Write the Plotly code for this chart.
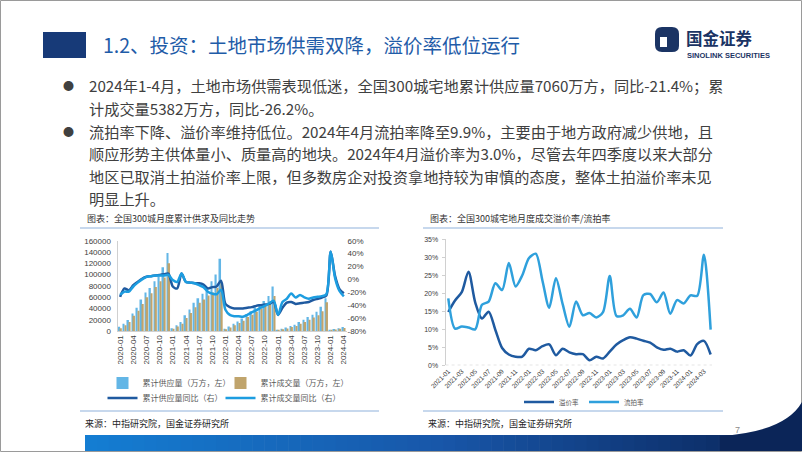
import plotly.graph_objects as go

W, H = 802, 452
def px(x): return x / W
def py(y): return 1 - y / H

CJK = "Noto Sans CJK SC"
ARIAL = "Liberation Sans, Arial, sans-serif"

# ---------------- data: left chart (全国300城月度累计供求及同比走势) ----------------
months_left = [f"{y}-{m:02d}" for y in range(2020, 2025) for m in range(1, 13)][:52]
supply_cum = [
    7700, 13000, 19500, 31000, 41000, 56000, 68000, 76000, 88000, 96000, 113000, 138000,
    5000, 10000, 16000, 28000, 38000, 50000, 58000, 66000, 78000, 88000, 100000, 128000,
    4000, 8000, 13000, 17000, 22000, 30000, 35000, 42000, 48000, 53000, 62000, 79000,
    2000, 4000, 6000, 9000, 11000, 16000, 20000, 25000, 29000, 34000, 43000, 58000,
    2000, 3500, 5000, 7060]
deal_cum = [
    5000, 10000, 16000, 27000, 36000, 48000, 60000, 67000, 78000, 88000, 95000, 120000,
    4000, 8000, 13000, 23000, 32000, 42000, 50000, 56000, 63000, 68000, 76000, 85000,
    3000, 6000, 10000, 14000, 18000, 25000, 29000, 34000, 40000, 46000, 52000, 62000,
    1500, 3000, 4500, 7300, 9000, 13000, 16000, 20000, 24000, 28000, 35000, 51000,
    1500, 2500, 4000, 5382]
supply_yoy = [
    -27, -14, -17, -9, -4, 1, 4, 5, 6, 7, 8, 9,
    -11, -14, 9, -4, -5, -6, -6, -8, -14, -12, -11, -2,
    -38, -43, -45, -45, -45, -44, -43, -41, -40, -39, -38, -35,
    -55, -44, -36, -35, -38, -37, -36, -35, -32, -30, -28, -25,
    43, 5, -15, -21.4]
deal_yoy = [
    -24, -19, -19, -11, -5, 0, 4, 5, 6, 6, 6, 7,
    -1, -4, 9, -4, -5, -6, -9, -12, -19, -22, -23, -16,
    -47, -55, -57, -57, -58, -55, -51, -48, -44, -41, -37, -33,
    -55, -35, -30, -22, -28, -24, -28, -30, -28, -27, -26, -23,
    43, 2, -18, -26.2]
left_x_ticks = months_left[::3]
left_y2_vals = [60, 40, 20, 0, -20, -40, -60, -80]
left_y2_text = ["60%", "40%", "20%", "0%", "-20%", "-40%", "-60%", "-80%"]

# ---------------- data: right chart (全国300城宅地月度成交溢价率/流拍率) ----------------
months_right = [f"{y}-{m:02d}" for y in range(2021, 2025) for m in range(1, 13)][:40]
premium_rate = [14.8, 18.0, 20.3, 26.0, 17.5, 13.0, 14.9, 9.8, 4.8, 3.0,
                2.4, 2.4, 4.6, 4.2, 5.3, 5.8, 2.8, 4.6, 3.6, 3.1,
                3.1, 1.4, 2.4, 1.9, 3.8, 5.8, 7.0, 7.8, 7.4, 6.8,
                6.3, 5.0, 4.3, 4.6, 3.8, 4.2, 2.7, 5.9, 6.8, 3.0]
failure_rate = [18.6, 10.2, 10.8, 10.5, 10.0, 16.8, 17.7, 22.8, 20.9, 28.4,
                21.9, 25.0, 29.8, 31.0, 23.5, 16.0, 24.2, 17.0, 10.7, 17.7,
                13.9, 14.5, 13.3, 14.8, 24.8, 13.7, 13.9, 15.7, 13.3, 19.5,
                19.8, 17.5, 20.2, 14.3, 18.1, 17.2, 19.4, 19.3, 30.7, 9.9]
right_x_ticks = months_right[::2]

# ---------------- text ----------------
title_text = "1.2、投资：土地市场供需双降，溢价率低位运行"
para1 = ["2024年1-4月，土地市场供需表现低迷，全国300城宅地累计供应量7060万方，同比-21.4%；累",
         "计成交量5382万方，同比-26.2%。"]
para2 = ["流拍率下降、溢价率维持低位。2024年4月流拍率降至9.9%，主要由于地方政府减少供地，且",
         "顺应形势主供体量小、质量高的地块。2024年4月溢价率为3.0%，尽管去年四季度以来大部分",
         "地区已取消土拍溢价率上限，但多数房企对投资拿地持较为审慎的态度，整体土拍溢价率未见",
         "明显上升。"]

C_SUP_BAR = "#63b6e6"
C_DEAL_BAR = "#c0a46c"
C_DARK = "#1f5aa0"
C_BRIGHT = "#1d9de0"
C_FAIL = "#2fa0dc"

fig = go.Figure()

# left chart traces
fig.add_trace(go.Bar(x=months_left, y=supply_cum, name="累计供应量（万方，左）",
                     marker_color=C_SUP_BAR, xaxis="x", yaxis="y", legend="legend", legendwidth=73))
fig.add_trace(go.Bar(x=months_left, y=deal_cum, name="累计成交量（万方，左）",
                     marker_color=C_DEAL_BAR, xaxis="x", yaxis="y", legend="legend", legendwidth=110))
fig.add_trace(go.Scatter(x=months_left, y=supply_yoy, name="累计供应量同比（右）", mode="lines",
                         line=dict(color=C_DARK, width=2.5, shape="spline", smoothing=0.8),
                         xaxis="x", yaxis="y2", legend="legend2", legendwidth=73))
fig.add_trace(go.Scatter(x=months_left, y=deal_yoy, name="累计成交量同比（右）", mode="lines",
                         line=dict(color=C_BRIGHT, width=2.5, shape="spline", smoothing=0.8),
                         xaxis="x", yaxis="y2", legend="legend2", legendwidth=105))

# right chart traces
fig.add_trace(go.Scatter(x=months_right, y=premium_rate, name="溢价率", mode="lines",
                         line=dict(color=C_DARK, width=2.5, shape="spline", smoothing=0.8),
                         xaxis="x2", yaxis="y3", legend="legend3"))
fig.add_trace(go.Scatter(x=months_right, y=failure_rate, name="流拍率", mode="lines",
                         line=dict(color=C_FAIL, width=2.5, shape="spline", smoothing=0.8),
                         xaxis="x2", yaxis="y3", legend="legend3"))

axis_font = dict(family=ARIAL, size=8, color="#404040")
legend_font = dict(family=CJK, size=8, color="#595959")

fig.update_layout(
    template="none",
    width=W, height=H, margin=dict(l=0, r=0, t=0, b=0, autoexpand=False),
    paper_bgcolor="white", plot_bgcolor="rgba(0,0,0,0)",
    barmode="group", bargap=0.25, bargroupgap=0.0,
    showlegend=True,
    xaxis=dict(domain=[px(117.5), px(346.5)], anchor="y", type="category", automargin=False,
               categoryorder="array", categoryarray=months_left, range=[-0.6, 51.6],
               tickmode="array", tickvals=left_x_ticks, ticktext=left_x_ticks,
               tickangle=-90, tickfont=axis_font, showgrid=False, zeroline=False,
               showline=True, linecolor="#d0d0d0", linewidth=1, ticks=""),
    yaxis=dict(domain=[py(331), py(240.7)], anchor="x", range=[0, 160000], dtick=20000,
               automargin=False, tickformat="d", tickfont=axis_font, showgrid=False,
               zeroline=False, showline=True, linecolor="#d0d0d0", linewidth=1, ticks="",
               ticklabelstandoff=4),
    yaxis2=dict(domain=[py(331), py(240.7)], anchor="x", overlaying="y", side="right",
                automargin=False, range=[-80, 60], tickmode="array", tickvals=left_y2_vals,
                ticktext=left_y2_text, tickfont=axis_font, showgrid=False, zeroline=False,
                showline=False, ticks=""),
    xaxis2=dict(domain=[px(445.6), px(712)], anchor="y3", type="category", automargin=False,
                categoryorder="array", categoryarray=months_right, range=[-0.4, 39.2],
                tickmode="array", tickvals=right_x_ticks, ticktext=right_x_ticks,
                tickangle=-45, tickfont=dict(family=ARIAL, size=6.5, color="#404040"),
                showgrid=False, zeroline=False, showline=False, ticks=""),
    yaxis3=dict(domain=[py(365.3), py(239.3)], anchor="x2", range=[0, 35], dtick=5,
                automargin=False, ticksuffix="%", tickfont=dict(family=ARIAL, size=7, color="#404040"),
                showgrid=False, zeroline=False, showline=True, linecolor="#d0d0d0",
                ticks="outside", ticklen=3, tickcolor="#d0d0d0", ticklabelstandoff=2),
    legend=dict(orientation="h", x=px(102.5), y=py(383), xanchor="left", yanchor="middle",
                font=legend_font, bgcolor="rgba(0,0,0,0)", borderwidth=0,
                itemwidth=30, tracegroupgap=0),
    legend2=dict(orientation="h", x=px(102.5), y=py(398), xanchor="left", yanchor="middle",
                 font=legend_font, bgcolor="rgba(0,0,0,0)", borderwidth=0,
                 itemwidth=30, tracegroupgap=0),
    legend3=dict(orientation="h", x=px(584), y=py(402), xanchor="center", yanchor="middle",
                 font=dict(family=CJK, size=6.5, color="#595959"), bgcolor="rgba(0,0,0,0)",
                 borderwidth=0, itemwidth=30, tracegroupgap=0),
)

shapes = []
annotations = []

# slide border
shapes.append(dict(type="rect", xref="paper", yref="paper", x0=px(0.5), x1=px(801.5),
                   y0=py(451.5), y1=py(0.5), line=dict(color="#9a9a9a", width=1), layer="above"))

# title block
shapes.append(dict(type="rect", xref="paper", yref="paper", x0=px(43), x1=px(86),
                   y0=py(58), y1=py(32), line=dict(width=0), fillcolor="#173a78"))
annotations.append(dict(text=title_text, x=px(101), y=py(45), xref="paper", yref="paper",
                        xanchor="left", yanchor="middle", showarrow=False,
                        font=dict(family=CJK, size=19.5, color="#1f5ca8")))

# logo
shapes.append(dict(type="path", xref="paper", yref="paper",
                   path=(f"M {px(662)},{py(27)} L {px(672)},{py(27)} Q {px(679)},{py(27)} {px(679)},{py(34)} "
                         f"L {px(679)},{py(46)} Q {px(679)},{py(52)} {px(672)},{py(52)} L {px(662)},{py(52)} "
                         f"Q {px(655)},{py(52)} {px(655)},{py(45)} L {px(655)},{py(34)} Q {px(655)},{py(27)} {px(662)},{py(27)} Z"),
                   line=dict(width=0), fillcolor="#1b3464"))
shapes.append(dict(type="rect", xref="paper", yref="paper", x0=px(660), x1=px(667),
                   y0=py(47), y1=py(37), line=dict(width=0), fillcolor="white"))
annotations.append(dict(text="<b>国金证券</b>", x=px(684), y=py(38), xref="paper", yref="paper",
                        xanchor="left", yanchor="middle", showarrow=False,
                        font=dict(family=CJK, size=16.5, color="#1b3464")))
annotations.append(dict(text="<b>SINOLINK SECURITIES</b>", x=px(685), y=py(55.5), xref="paper", yref="paper",
                        xanchor="left", yanchor="middle", showarrow=False,
                        font=dict(family=ARIAL, size=7.5, color="#1b3464")))

# body text, one text per line
BODY = 15.2
LS = 22.3
for lines, first_y in [(para1, 85.5), (para2, 131)]:
    annotations.append(dict(text="●", x=px(68), y=py(first_y), xref="paper", yref="paper",
                            xanchor="center", yanchor="middle", showarrow=False,
                            font=dict(family=CJK, size=11, color="#404040")))
    for k, line in enumerate(lines):
        annotations.append(dict(text=line, x=px(87), y=py(first_y + k * LS),
                                xref="paper", yref="paper", xanchor="left", yanchor="middle",
                                showarrow=False,
                                font=dict(family=CJK, size=BODY, color="#404040")))

# chart titles, rules and sources
for (x0, x1, title) in [(80, 379, "图表：全国300城月度累计供求及同比走势"),
                        (423, 723, "图表：全国300城宅地月度成交溢价率/流拍率")]:
    shapes.append(dict(type="line", xref="paper", yref="paper", x0=px(x0), x1=px(x1),
                       y0=py(228), y1=py(228), line=dict(color="#8fb2dc", width=1.2)))
    shapes.append(dict(type="line", xref="paper", yref="paper", x0=px(x0), x1=px(x1),
                       y0=py(411), y1=py(411), line=dict(color="#8fb2dc", width=1.2)))
    annotations.append(dict(text=title, x=px(x0 + 5), y=py(218.5), xref="paper", yref="paper",
                            xanchor="left", yanchor="middle", showarrow=False,
                            font=dict(family=CJK, size=9, color="#333333")))
    annotations.append(dict(text="来源：中指研究院，国金证券研究所", x=px(x0 + 3), y=py(423),
                            xref="paper", yref="paper", xanchor="left", yanchor="middle",
                            showarrow=False, font=dict(family=CJK, size=9, color="#262626")))

# dotted baseline of the right chart
shapes.append(dict(type="line", xref="x2 domain", yref="y3", x0=0, x1=1, y0=0, y1=0,
                   line=dict(color="#bfbfbf", width=1, dash="dot")))

# footer gradient bar
def lerp(c1, c2, t):
    return "#%02x%02x%02x" % tuple(int(round(a + (b - a) * t)) for a, b in zip(c1, c2))
c_left, c_mid, c_right = (20, 125, 210), (24, 86, 168), (10, 36, 88)
n = 60
x_start, x_end = 85, 802
for i in range(n):
    t = i / (n - 1)
    col = lerp(c_left, c_mid, t * 2) if t < 0.5 else lerp(c_mid, c_right, (t - 0.5) * 2)
    xa = x_start + (x_end - x_start) * i / n
    xb = x_start + (x_end - x_start) * (i + 1) / n + 0.6
    shapes.append(dict(type="rect", xref="paper", yref="paper", x0=px(xa), x1=px(min(xb, 802)),
                       y0=py(451), y1=py(435), line=dict(width=0), fillcolor=col))
shapes.append(dict(type="path", xref="paper", yref="paper",
                   path=(f"M {px(720)},{py(436)} Q {px(785)},{py(432)} {px(802)},{py(402)} "
                         f"L {px(802)},{py(451)} L {px(720)},{py(451)} Z"),
                   line=dict(width=0), fillcolor="#0b2558"))
annotations.append(dict(text="7", x=px(737), y=py(430), xref="paper", yref="paper",
                        xanchor="center", yanchor="middle", showarrow=False,
                        font=dict(family=ARIAL, size=9, color="#8c8c8c")))

fig.update_layout(shapes=shapes, annotations=annotations)
fig.write_html("out.html", config={"displayModeBar": False},
               post_script="document.body.style.margin='0';document.body.style.overflow='hidden';")
